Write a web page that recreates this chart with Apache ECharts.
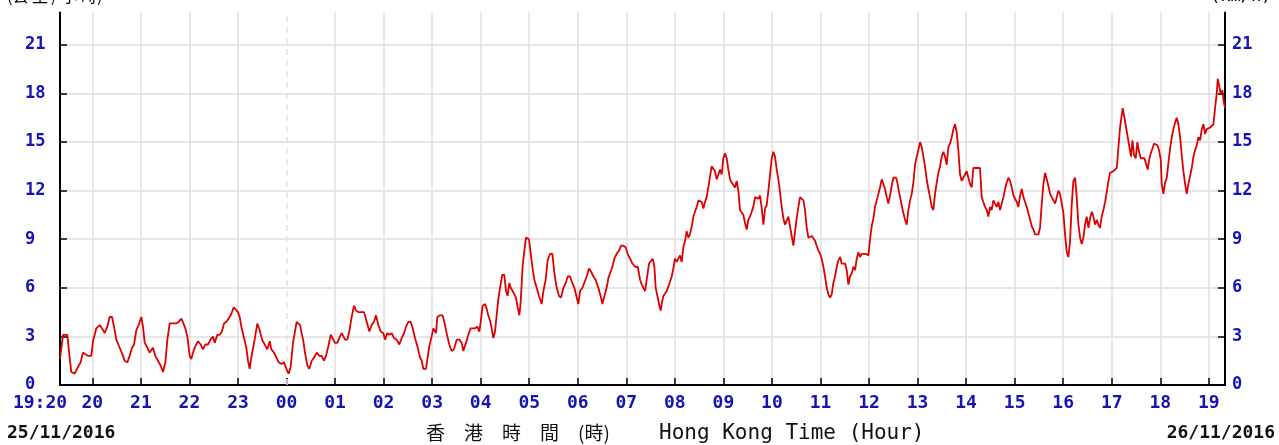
<!DOCTYPE html>
<html>
<head>
<meta charset="utf-8">
<script src="https://cdn.jsdelivr.net/npm/echarts@6/dist/echarts.min.js"></script>
<style>
  html, body { margin: 0; padding: 0; background: #ffffff; }
  #chart { width: 1279px; height: 445px; }
</style>
</head>
<body>
<div id="chart"></div>
<script>
// Wind speed record, 19:20 25/11/2016 to 19:20 26/11/2016 (Hong Kong Time)
const startDate = '25/11/2016';
const endDate = '26/11/2016';
const unitZh = '(公 里 / 小 時)';
const unitEn = '(km/h)';
const timeTitleZh = '香\u3000港\u3000時\u3000間\u3000(時)';
const timeTitleEn = 'Hong Kong Time (Hour)';

// Minutes after 19:00 on 25/11/2016
const minutesAfter1900 = [
  20.0, 23.7, 29.1, 31.9, 34.0, 38.1, 40.2, 43.1, 45.5, 48.4, 51.3, 54.6, 58.7, 60.8, 64.9, 69.0, 71.1, 73.2, 75.2, 78.5,
  81.4, 84.3, 86.8, 89.6, 93.8, 97.9, 99.9, 103.2, 106.1, 109.0, 111.5, 114.4, 117.2, 120.5, 122.6, 124.7, 128.0, 130.8, 134.9, 137.8,
  141.1, 144.4, 147.3, 150.2, 152.7, 155.6, 159.7, 163.8, 166.7, 170.0, 172.5, 174.9, 177.4, 180.3, 182.3, 184.4, 187.3, 190.6, 193.9, 196.8,
  199.6, 202.9, 206.2, 209.1, 211.2, 214.5, 217.4, 220.2, 222.7, 225.6, 228.5, 231.8, 234.7, 237.1, 240.0, 242.1, 244.2, 247.4, 250.3, 252.4,
  254.4, 256.5, 260.6, 263.9, 266.8, 269.7, 273.0, 276.3, 279.2, 281.2, 284.5, 287.4, 290.3, 293.6, 296.9, 299.8, 302.6, 305.1, 308.0,
  312.5, 314.6, 316.7, 318.7, 320.8, 322.8, 325.7, 328.2, 331.1, 334.0, 337.3, 340.6, 343.4, 346.3, 348.8, 351.7, 354.6, 357.0, 359.9, 362.8,
  366.1, 368.2, 370.2, 372.3, 375.2, 377.6, 380.5, 383.4, 385.9, 388.8, 392.9, 395.8, 399.1, 402.4, 405.2, 408.1, 410.6, 413.5, 416.4, 419.7,
  421.7, 424.6, 427.1, 430.0, 432.8, 436.1, 439.4, 442.3, 445.2, 448.5, 450.6, 453.5, 455.9, 458.8, 461.7, 465.0, 467.1, 469.1, 472.4, 474.1,
  476.5, 479.4, 481.5, 484.8, 486.4, 489.7, 493.0, 495.9, 498.8, 501.2, 504.1, 507.0, 510.3, 513.6, 516.5, 518.5, 521.8, 524.7, 527.6, 530.1,
  533.0, 535.9, 538.3, 540.0, 542.4, 545.3, 547.4, 549.4, 551.5, 553.6, 555.6, 557.7, 559.7, 561.8, 563.9, 566.7, 569.2, 571.3, 573.3, 575.4,
  577.1, 579.5, 581.2, 583.6, 585.7, 587.8, 589.4, 591.9, 594.0, 596.0,
  598.1, 599.7, 601.4, 603.9, 606.3, 609.2, 612.1, 615.4, 617.5, 620.3, 622.8, 625.7, 628.6, 631.1, 633.9, 636.8, 639.3, 642.2, 645.1, 647.5,
  650.4, 653.3, 655.8, 658.7, 660.7, 662.8, 665.7, 668.1, 671.0, 673.9, 676.4, 679.3, 682.1, 685.4, 688.7, 690.4, 692.9, 695.7, 697.8, 699.9,
  702.7, 705.2, 708.1, 711.0, 713.5, 716.3, 719.2, 721.7, 724.6, 727.5, 730.8, 734.1, 737.0, 739.0, 741.1, 743.1, 745.2, 748.1, 750.5, 752.6,
  754.7, 756.3, 758.8, 760.4, 762.5, 763.7, 765.8, 767.8, 769.9, 772.8, 776.1, 778.1, 780.2, 782.3, 784.3, 786.4, 788.4, 790.5, 792.6, 794.6,
  796.7, 798.7, 800.8, 802.9, 804.9, 807.0, 809.1, 811.1, 813.2, 815.2, 817.3, 819.3, 821.4, 823.5, 825.5, 827.6, 829.6, 831.7, 833.8, 835.8,
  837.9, 839.9, 842.0, 844.1, 846.1, 848.2, 850.2, 852.3, 854.4, 856.4, 858.5, 860.5, 862.6, 864.7, 866.7, 868.8, 870.8, 872.9, 875.0, 877.0,
  879.1, 881.2, 883.2,
  885.3, 887.4, 889.4, 891.5, 893.5, 895.6, 897.7, 899.7, 901.8, 903.8, 905.9, 908.0, 910.0, 912.1, 914.1, 916.2, 918.3, 920.3, 922.4, 924.4,
  926.5, 928.6, 930.6, 932.7, 934.7, 936.8, 938.9, 940.9, 943.0, 945.0, 947.1, 949.2, 951.2, 953.3, 955.3, 957.4, 959.5, 961.5, 963.6, 965.6,
  967.7, 969.8, 971.8, 973.9, 975.9, 978.0, 980.1, 982.1, 984.2, 986.2, 988.3, 990.4, 992.4, 994.5, 996.5, 998.6, 1000.7, 1002.7, 1004.8, 1006.8,
  1008.9, 1011.0, 1013.0, 1016.3, 1019.2, 1021.3, 1023.3, 1025.4, 1027.4, 1029.5, 1031.6, 1033.6, 1035.7, 1037.7, 1039.8, 1041.9, 1043.9, 1046.0, 1048.0, 1050.1,
  1053.4, 1055.0, 1057.5, 1060.4, 1062.5, 1064.5, 1066.6, 1068.6, 1070.7, 1072.8, 1074.8, 1076.9, 1078.9, 1081.0, 1083.1, 1085.1, 1087.2, 1089.2, 1091.3, 1093.4,
  1095.4, 1097.5, 1099.5, 1101.6, 1103.7, 1105.7, 1107.8, 1109.8, 1111.9, 1114.0, 1116.0, 1118.1, 1120.1, 1122.2, 1124.3, 1126.3, 1128.4, 1130.4, 1132.5, 1134.6,
  1136.6, 1138.7, 1140.7, 1142.8, 1144.9, 1146.9, 1149.0, 1151.0, 1153.1, 1155.2, 1157.2, 1159.3, 1161.3, 1163.4, 1165.5, 1167.5, 1169.6, 1171.6, 1173.7,
  1175.8, 1177.9, 1179.9, 1182.0, 1184.0, 1186.1, 1188.2, 1190.2, 1192.3, 1194.3, 1196.4, 1198.5, 1200.5, 1202.6, 1204.6, 1206.7, 1208.8, 1210.8, 1212.9, 1214.9,
  1217.0, 1219.1, 1221.1, 1223.2, 1225.2, 1227.3, 1229.4, 1231.4, 1233.5, 1235.5, 1237.6, 1239.7, 1241.7, 1243.8, 1245.8, 1247.9, 1250.0, 1252.0, 1254.1, 1256.1,
  1258.2, 1260.3, 1262.3, 1264.4, 1266.4, 1268.5, 1270.6, 1272.6, 1274.7, 1276.7, 1278.8, 1280.9, 1282.9, 1285.0, 1287.0, 1289.1, 1291.2, 1293.2, 1295.3, 1297.3,
  1299.4, 1301.5, 1303.5, 1305.6, 1307.6, 1309.7, 1311.8, 1313.8, 1315.9, 1317.9, 1320.0, 1322.1, 1324.1, 1326.2, 1328.3, 1330.3, 1332.4, 1333.6, 1335.7, 1337.7,
  1339.8, 1341.8, 1343.9, 1345.6, 1347.6, 1349.7, 1351.7, 1353.8, 1355.9, 1357.9, 1360.4, 1362.4, 1364.5, 1366.2, 1368.2, 1370.3, 1372.3, 1374.4, 1376.5, 1378.5,
  1380.6, 1381.8, 1383.9, 1385.9, 1388.0, 1390.0, 1392.1, 1394.2, 1396.2, 1398.3, 1400.3, 1402.4, 1404.5, 1406.5, 1408.6, 1410.7, 1412.7, 1414.8, 1416.8, 1418.9,
  1421.0, 1423.0, 1425.1, 1427.1, 1429.2, 1431.3, 1433.3, 1435.4, 1437.4, 1439.5, 1441.6, 1443.6, 1445.7, 1447.7, 1449.8, 1451.0, 1452.7, 1454.7, 1456.8, 1458.4,
  1460.0
];

// Wind speed (km/h) at each time above
const windSpeedKmh = [
  1.6, 3.1, 3.1, 1.7, 0.8, 0.7, 0.7, 1.2, 1.4, 2.0, 1.9, 1.8, 1.8, 2.7, 3.5, 3.7, 3.8, 3.4, 3.2, 3.6,
  4.2, 4.2, 3.6, 2.8, 2.3, 1.8, 1.5, 1.4, 1.8, 2.3, 2.5, 3.4, 3.7, 4.2, 3.6, 2.6, 2.3, 2.0, 2.3, 1.8,
  1.5, 1.2, 0.8, 1.4, 2.8, 3.8, 3.8, 3.8, 3.9, 4.1, 3.8, 3.5, 3.0, 1.8, 1.6, 2.0, 2.4, 2.7, 2.5, 2.2,
  2.5, 2.5, 2.8, 3.0, 2.6, 3.1, 3.1, 3.3, 3.8, 3.9, 4.1, 4.4, 4.8, 4.9, 4.5, 4.2, 3.6, 2.9, 2.3, 1.5,
  1.0, 1.7, 2.8, 3.8, 3.4, 2.8, 2.5, 2.2, 2.7, 2.2, 2.0, 1.7, 1.4, 1.3, 1.4, 1.0, 0.7, 1.1, 2.6,
  3.9, 3.9, 3.7, 3.2, 2.7, 2.0, 1.2, 1.0, 1.5, 1.7, 2.0, 1.8, 1.8, 1.5, 1.8, 2.4, 3.1, 3.2, 2.6, 2.6,
  3.0, 3.2, 3.1, 2.8, 2.8, 3.3, 4.2, 4.9, 4.6, 4.5, 4.5, 4.5, 3.9, 3.3, 3.7, 3.9, 4.3, 3.7, 3.3, 3.2,
  2.8, 3.2, 3.1, 3.2, 2.9, 2.8, 2.5, 2.9, 3.2, 3.7, 3.9, 3.9, 3.5, 2.9, 2.4, 1.7, 1.5, 1.0, 1.0, 1.6,
  2.4, 3.0, 3.5, 3.2, 4.2, 4.3, 4.3, 3.7, 3.0, 2.5, 2.1, 2.2, 2.8, 2.8, 2.6, 2.1, 2.6, 3.1, 3.5, 3.5,
  3.5, 3.6, 3.3, 3.9, 4.9, 5.0, 4.7, 4.3, 4.0, 3.5, 2.9, 3.3, 4.3, 5.3, 6.0, 6.8, 6.8, 5.8, 5.5, 6.3,
  6.0, 5.8, 5.9, 5.4, 4.8, 4.3, 5.1, 7.4, 8.3, 9.1,
  9.2, 9.0, 8.3, 7.3, 6.5, 6.0, 5.5, 5.0, 5.8, 6.5, 7.7, 8.1, 8.1, 6.9, 6.0, 5.5, 5.4, 6.0, 6.3, 6.7,
  6.7, 6.3, 6.0, 5.4, 5.0, 5.8, 6.0, 6.0, 6.7, 7.2, 7.0, 6.7, 6.5, 6.0, 5.4, 5.0, 5.5, 6.0, 6.6, 6.9,
  7.3, 7.8, 8.1, 8.3, 8.6, 8.6, 8.5, 8.1, 7.8, 7.5, 7.3, 7.3, 6.5, 6.2, 6.2, 5.8, 6.5, 7.5, 7.5, 7.8,
  7.3, 6.0, 5.4, 5.0, 4.6, 5.0, 5.5, 5.6, 5.8, 6.2, 6.7, 7.2, 7.8, 7.6, 7.5, 8.0, 7.6, 8.5, 8.9, 9.5,
  9.1, 9.3, 9.8, 10.4, 10.7, 11.0, 11.4, 11.5, 11.3, 10.9, 11.3, 11.6, 12.2, 12.9, 13.5, 13.6, 13.2, 12.7, 13.0, 13.3,
  13.0, 14.0, 14.3, 14.0, 13.3, 12.7, 12.5, 12.4, 12.2, 12.6, 12.0, 10.8, 10.8, 10.5, 10.0, 9.6, 10.2, 10.4, 10.7, 11.0,
  11.6, 11.7, 11.5,
  11.7, 10.9, 9.9, 10.9, 11.1, 12.0, 13.0, 14.0, 14.4, 14.1, 13.3, 12.7, 11.9, 11.0, 10.3, 9.9, 9.8, 10.4, 9.8, 9.2,
  8.6, 9.5, 10.3, 11.0, 11.6, 11.7, 11.4, 10.8, 9.7, 9.1, 9.0, 9.2, 9.2, 8.9, 8.6, 8.3, 8.1, 7.8, 7.3, 6.7,
  6.0, 5.6, 5.4, 5.6, 6.3, 6.7, 7.3, 7.7, 7.9, 7.5, 7.5, 7.5, 7.1, 6.2, 6.7, 6.9, 7.3, 7.1, 7.8, 8.2,
  7.9, 8.1, 8.1, 8.1, 8.0, 9.0, 9.8, 10.3, 11.0, 11.4, 11.8, 12.2, 12.7, 12.7, 12.1, 11.6, 11.2, 11.7, 12.3, 12.8,
  12.8, 12.5, 11.8, 11.1, 10.6, 10.2, 9.9, 10.8, 11.4, 11.8, 12.5, 13.6, 14.1, 14.5, 15.0, 14.7, 14.1, 13.5, 12.7, 12.1,
  11.6, 11.0, 10.8, 11.8, 12.5, 13.1, 13.5, 14.1, 14.4, 14.1, 13.6, 14.7, 14.9, 15.3, 15.8, 16.1, 15.6, 14.5, 13.0, 12.6,
  12.8, 12.7, 13.2, 13.2, 12.4, 12.2, 13.4, 13.5, 13.4, 13.3, 13.4, 11.6, 11.3, 11.0, 10.8, 10.4, 11.0, 10.8, 11.4,
  11.5, 11.0, 11.3, 10.8, 11.2, 11.6, 12.1, 12.5, 12.8, 12.6, 12.2, 11.7, 11.7, 11.3, 11.0, 11.7, 12.1, 11.6, 11.3, 11.0,
  10.6, 10.2, 9.8, 9.6, 9.3, 9.3, 9.3, 9.7, 11.2, 12.4, 13.1, 13.2, 12.3, 11.8, 11.6, 11.7, 11.2, 11.6, 12.0, 11.8,
  11.2, 10.6, 9.3, 8.2, 7.9, 8.9, 11.2, 12.6, 12.8, 11.6, 9.9, 9.1, 8.7, 9.1, 9.9, 10.4, 9.7, 10.3, 10.7, 10.4,
  9.9, 10.2, 9.9, 9.7, 10.4, 10.8, 11.3, 11.9, 12.6, 13.1, 13.2, 13.2, 13.2, 13.4, 14.7, 15.9, 16.7, 17.1, 16.5, 15.9,
  15.3, 14.7, 14.1, 15.1, 14.2, 14.0, 15.0, 14.4, 14.0, 14.1, 14.0, 13.9, 13.3, 13.9, 14.3, 14.6, 14.9, 15.0, 14.8, 14.5,
  13.9, 12.4, 11.8, 12.5, 12.8, 13.7, 14.6, 15.3, 15.8, 16.2, 16.5, 16.1, 15.3, 14.2, 13.2, 12.4, 11.8, 12.4, 12.9, 13.4,
  14.1, 14.5, 14.8, 15.3, 15.1, 15.8, 16.1, 15.5, 15.8, 15.7, 15.9, 16.0, 16.1, 17.1, 18.0, 18.9, 18.5, 18.0, 18.2, 17.5,
  17.1
];

// Axis ranges (x in minutes after 19:00, y in km/h)
const xRange = [20, 1460];
const hourMinutes = [];           // on-the-hour positions, 20:00 .. 19:00
for (let v = 60; v < xRange[1]; v += 60) hourMinutes.push(v);
const midnightMinute = 300;
const speedRange = [0, 23];
const speedStep = 3;

const labelBlue = '#1414b4';
const gridGrey = '#dedede';
const lineRed = '#dc0000';
const frameWidth = 2;
const monoFont = '"DejaVu Sans Mono", "Liberation Mono", monospace';

// Vertical grid lines: the midnight line is drawn dashed separately
const vLineColors = hourMinutes.map(v => (v === midnightMinute ? 'rgba(0,0,0,0)' : gridGrey));

function hourLabel(v) {
  if (v === xRange[0]) return '{first|19:20}';
  const h = (19 + Math.round(v / 60)) % 24;
  return (h < 10 ? '0' : '') + h;
}

const chart = echarts.init(document.getElementById('chart'), null, { renderer: 'canvas' });

const yAxisBase = {
  type: 'value',
  min: speedRange[0],
  max: speedRange[1],
  interval: speedStep,
  axisLine: { show: true, lineStyle: { color: '#000', width: frameWidth } },
  axisTick: { show: true, inside: true, length: 7, lineStyle: { color: '#000', width: 1.5 } },
  axisLabel: {
    showMaxLabel: false,
    color: labelBlue,
    fontFamily: monoFont,
    fontWeight: 'bold',
    fontSize: 17,
    align: 'left',
    padding: [4, 0, 0, 0],
    formatter: v => (v > 21 ? '' : String(v))
  }
};

chart.setOption({
  animation: false,
  backgroundColor: '#ffffff',
  grid: {
    left: 60, right: 54, top: 12.5, bottom: 60,
    show: false
  },
  xAxis: [{
    type: 'value',
    position: 'bottom',
    min: xRange[0],
    max: xRange[1],
    axisLine: { show: true, lineStyle: { color: '#000', width: frameWidth } },
    axisTick: { show: true, inside: true, length: 7, customValues: hourMinutes, lineStyle: { color: '#000', width: 1.5 } },
    splitLine: { show: true, lineStyle: { color: vLineColors, width: 1.5 } },
    axisLabel: {
      customValues: [xRange[0]].concat(hourMinutes),
      margin: 9,
      color: labelBlue,
      fontFamily: monoFont,
      fontWeight: 'bold',
      fontSize: 18,
      formatter: hourLabel,
      rich: {
        first: {
          color: labelBlue, fontFamily: monoFont, fontWeight: 'bold', fontSize: 18,
          padding: [0, 40, 0, 0]
        }
      }
    }
  }, {
    // top frame edge
    type: 'value',
    position: 'top',
    min: xRange[0],
    max: xRange[1],
    axisLine: { show: true, lineStyle: { color: '#000', width: frameWidth } },
    axisTick: { show: false },
    axisLabel: { show: false },
    splitLine: { show: false }
  }],
  yAxis: [
    Object.assign({}, yAxisBase, {
      position: 'left',
      splitLine: { show: true, showMinLine: false, showMaxLine: false, lineStyle: { color: gridGrey, width: 1.5 } },
      axisLabel: Object.assign({}, yAxisBase.axisLabel, { margin: 35 })
    }),
    Object.assign({}, yAxisBase, {
      position: 'right',
      splitLine: { show: false },
      axisLabel: Object.assign({}, yAxisBase.axisLabel, { margin: 7 })
    })
  ],
  series: [{
    type: 'line',
    xAxisIndex: 0,
    yAxisIndex: 0,
    data: minutesAfter1900.map((m, i) => [m, windSpeedKmh[i]]),
    showSymbol: false,
    symbol: 'none',
    lineStyle: { color: lineRed, width: 1.8 },
    z: 3,
    markLine: {
      silent: true,
      symbol: 'none',
      z: 1,
      label: { show: false },
      lineStyle: { color: '#e2e2e2', width: 1.5, type: [6, 5] },
      data: [{ xAxis: midnightMinute }]
    }
  }],
  graphic: [
    { type: 'text', left: 7, top: -12, style: { text: unitZh, fontSize: 16, fontFamily: '"Noto Sans CJK TC", sans-serif', fill: '#000' } },
    { type: 'text', left: 1210, top: -12, style: { text: unitEn, fontSize: 17, fontFamily: monoFont, fill: '#000' } },
    { type: 'text', left: 7, top: 424, style: { text: startDate, fontSize: 18, fontWeight: 'bold', fontFamily: monoFont, fill: '#111' } },
    { type: 'text', right: 4, top: 424, style: { text: endDate, fontSize: 18, fontWeight: 'bold', fontFamily: monoFont, fill: '#111' } },
    { type: 'text', left: 426, top: 423, style: { text: timeTitleZh, fontSize: 19, fontFamily: '"Noto Sans CJK TC", sans-serif', fill: '#111' } },
    { type: 'text', left: 659, top: 423, style: { text: timeTitleEn, fontSize: 21, fontFamily: monoFont, fill: '#111' } }
  ]
});
</script>
</body>
</html>
